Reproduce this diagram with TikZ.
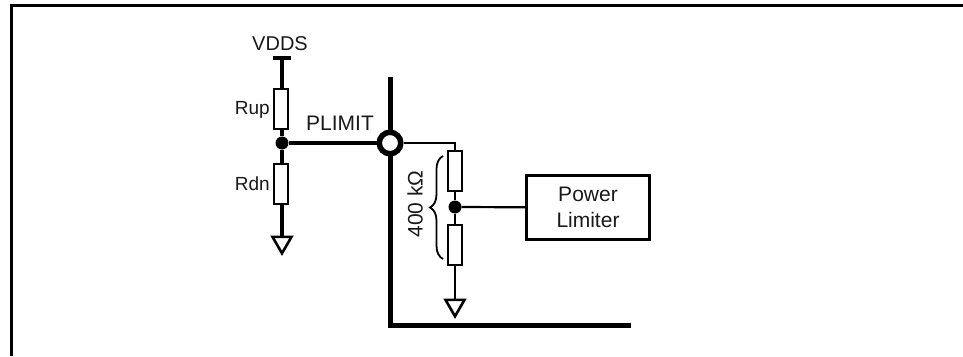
\documentclass[tikz,border=0pt]{standalone}
\usepackage{fontspec}
\setmainfont{Liberation Sans}
\usetikzlibrary{positioning,decorations.pathreplacing,shapes.geometric}
\tikzset{
    res/.style={draw,line width=2.4pt,fill=white,minimum width=14pt,minimum height=40pt,inner sep=0pt},
    wire/.style={line width=3.6pt},
    thinwire/.style={line width=2.8pt},
    bus/.style={line width=5pt},
    dot/.style={circle,fill=black,inner sep=0pt,minimum size=13pt},
    gnd/.style={draw,line width=2.6pt,fill=white,regular polygon,regular polygon sides=3,shape border rotate=180,minimum size=22pt,inner sep=0pt},
    lbl/.style={font=\fontsize{21}{26}\selectfont,text=black!90,inner sep=0pt},
    smalllbl/.style={font=\fontsize{19}{22}\selectfont,text=black!90,inner sep=0pt},
}
\begin{document}
\begin{tikzpicture}[x=1pt,y=-1pt]
    \useasboundingbox (0,0) rectangle (963,356);
    \draw[line width=3pt] (11,356) -- (11,5.5) -- (963,5.5);
    % left divider
    \node[res] (rup) at (281,109) {};
    \node[res] (rdn) at (281,184) {};
    \node[dot] (mid) at (282,143) {};
    \coordinate (vtop) at (282,58);
    \coordinate (barl) at (273,58);
    \coordinate (barr) at (291,58);
    \node[font=\fontsize{20}{24}\selectfont,text=black!90,inner sep=0pt] (vdds) at (280,44) {VDDS};
    \node[smalllbl,anchor=east] (ruplbl) at (270,110) {Rup};
    \node[smalllbl,anchor=east] (rdnlbl) at (270,184) {Rdn};
    \node[lbl] (plimit) at (340,123) {PLIMIT};
    \draw[wire] (barl) -- (barr);
    \draw[wire] (vtop) -- (vtop |- rup.north);
    \draw[wire] (rup.south -| mid) -- (mid);
    \draw[wire] (mid) -- (mid |- rdn.north);
    % bus and pin
    \coordinate (bustop) at (390.5,77);
    \coordinate (buscorner) at (390.5,325.5);
    \coordinate (busend) at (631,325.5);
    \draw[bus] (bustop) -- (buscorner) -- (busend);
    \node[circle,draw,line width=5.5pt,fill=white,minimum size=21.5pt,inner sep=0pt] (pin) at (390,143) {};
    \draw[wire] (mid) -- (pin);
    % right divider
    \node[res] (rhi) at (455,171) {};
    \node[res] (rlo) at (455,245) {};
    \node[dot] (tap) at (455,207) {};
    \coordinate (rhitop) at (455,143);
    \draw[thinwire] (pin) -- (rhitop) -- (rhi);
    \draw[thinwire] (rhi) -- (tap);
    \draw[thinwire] (tap) -- (rlo);
    \node[draw,line width=2.6pt,minimum width=123.5pt,minimum height=64.5pt,align=center,lbl,inner sep=0pt] (limiter) at (588,207.5) {Power\\Limiter};
    \draw[line width=2.2pt] (tap) -- (limiter);
    % grounds
    \node[gnd,anchor=north] (gndl) at (282,235.5) {};
    \node[gnd,anchor=north] (gndr) at (455,298.5) {};
    \draw[wire] (rdn.south -| gndl) -- (gndl.north);
    \draw[thinwire] (rlo) -- (gndr.north);
    % brace
    \coordinate (bracetop) at (443,156);
    \coordinate (brabot) at (443,259);
    \draw[decorate,decoration={brace,amplitude=13pt,mirror},line width=1.8pt] (bracetop) -- (brabot);
    \node[lbl,rotate=90] (ohm) at (415,204) {400 k\symbol{"03A9}};
\end{tikzpicture}
\end{document}
